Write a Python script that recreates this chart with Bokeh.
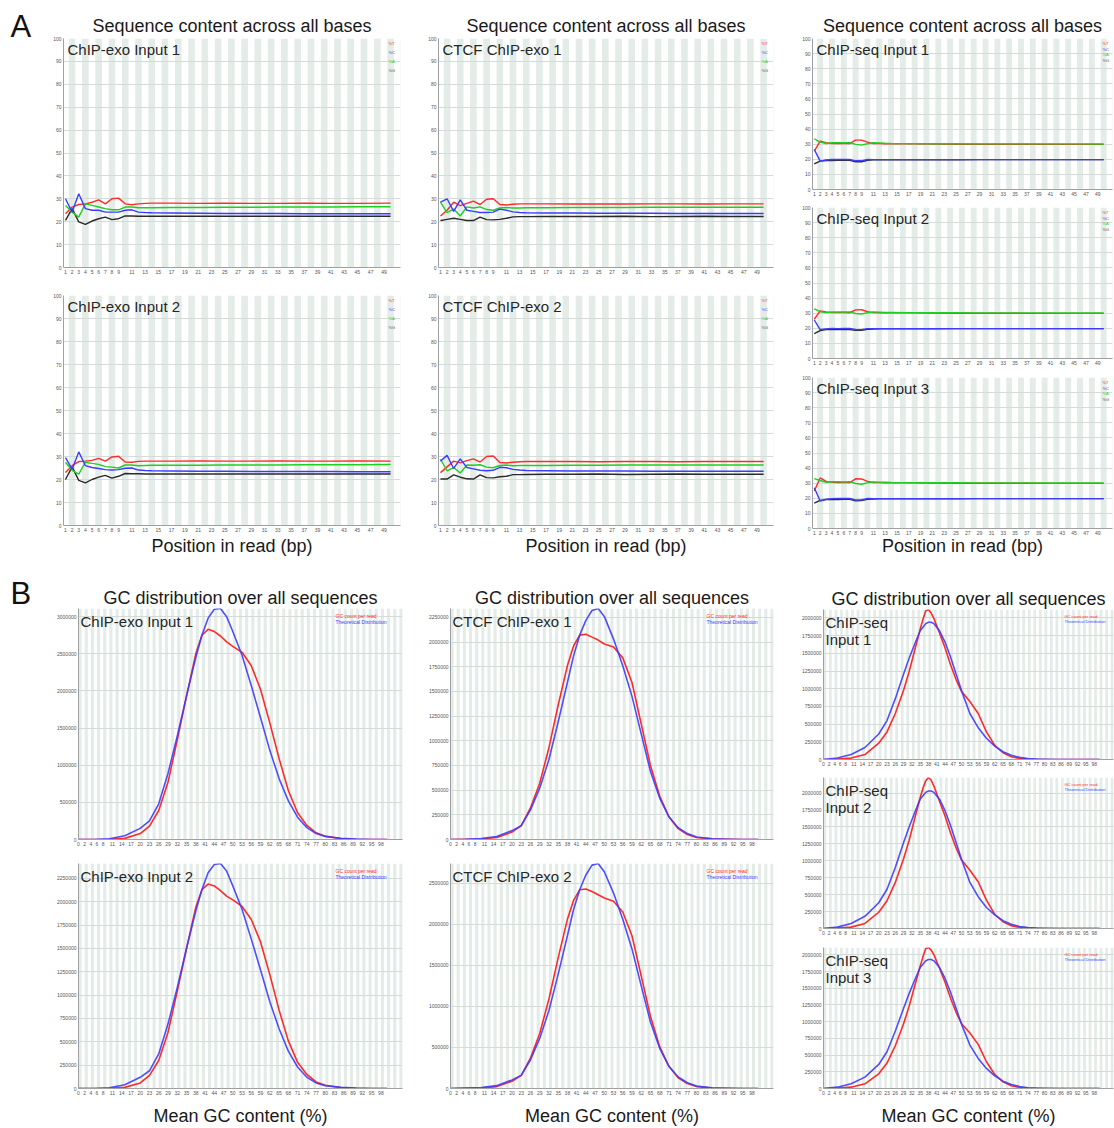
import numpy as np
from bokeh.plotting import figure
from bokeh.layouts import row, column
from bokeh.models import Range1d, FixedTicker, Label, NumeralTickFormatter
from bokeh.core.properties import value
from bokeh.embed import file_html
from bokeh.resources import INLINE

FONT = "Liberation Sans"
BAND = "#e4ece8"
GRID = "#d3dcd8"
RED = "#ff2a2a"
BLUE = "#3c3cff"
GREEN = "#1fcf1f"
BLACK = "#2a2a2a"

# ---------------- Panel A: per-base sequence content (%) ----------------
POS = [1, 2, 3, 4, 5, 6, 7, 8, 9, 10, 11, 12, 13, 14, 17, 21, 25, 29, 33, 37, 41, 45, 50]
POS_TICKS = list(range(1, 10)) + list(range(11, 50, 2))
PCT_TICKS = list(range(0, 101, 10))

exo1_T = [23.5, 26.4, 27.5, 27.8, 28.5, 29.5, 27.8, 30.0, 30.3, 27.8, 27.4, 27.8, 28.0, 28.1, 28.1, 28.0, 28.1, 28.0, 28.0, 28.1, 28.0, 28.0, 28.1]
exo1_C = [30.0, 24.2, 32.2, 25.7, 25.0, 25.0, 24.2, 24.2, 24.2, 25.0, 25.2, 24.2, 24.0, 23.9, 23.8, 23.7, 23.6, 23.6, 23.6, 23.5, 23.5, 23.5, 23.5]
exo1_A = [27.1, 24.2, 22.0, 27.8, 27.1, 26.4, 25.7, 25.2, 25.2, 26.4, 26.4, 26.1, 26.1, 26.1, 26.2, 26.2, 26.3, 26.3, 26.4, 26.4, 26.4, 26.5, 26.5]
exo1_G = [20.6, 25.7, 19.9, 18.8, 20.3, 21.3, 22.0, 20.9, 21.3, 22.5, 22.5, 22.4, 22.4, 22.4, 22.4, 22.4, 22.4, 22.4, 22.4, 22.4, 22.4, 22.4, 22.4]

exo2_T = [23.0, 26.0, 27.8, 28.0, 28.3, 29.2, 28.0, 29.8, 30.1, 27.6, 27.5, 27.9, 28.0, 28.0, 28.0, 28.1, 28.0, 28.0, 28.1, 28.0, 28.0, 28.1, 28.0]
exo2_C = [29.5, 24.5, 32.0, 26.0, 25.2, 24.8, 24.3, 24.1, 24.3, 24.9, 25.0, 24.1, 23.9, 23.8, 23.7, 23.6, 23.6, 23.5, 23.5, 23.5, 23.5, 23.4, 23.4]
exo2_A = [27.5, 24.0, 22.3, 27.5, 27.0, 26.6, 25.6, 25.4, 25.0, 26.3, 26.3, 26.0, 26.1, 26.2, 26.2, 26.2, 26.3, 26.3, 26.3, 26.4, 26.4, 26.4, 26.5]
exo2_G = [20.0, 25.5, 19.6, 18.5, 20.0, 21.0, 21.8, 20.6, 21.4, 22.6, 22.5, 22.5, 22.4, 22.4, 22.4, 22.4, 22.4, 22.4, 22.4, 22.4, 22.4, 22.4, 22.4]

ctcf1_T = [22.5, 25.0, 28.5, 27.0, 28.0, 29.0, 27.5, 29.8, 30.0, 27.5, 27.3, 27.6, 27.8, 27.8, 27.8, 27.7, 27.8, 27.7, 27.8, 27.8, 27.7, 27.8, 27.8]
ctcf1_C = [28.5, 30.0, 24.5, 29.5, 25.0, 24.5, 24.0, 24.0, 24.2, 25.5, 25.0, 24.3, 24.0, 23.9, 23.8, 23.8, 23.7, 23.7, 23.7, 23.6, 23.6, 23.6, 23.6]
ctcf1_A = [28.5, 24.0, 25.5, 22.5, 26.5, 26.0, 26.5, 25.3, 25.0, 26.0, 26.2, 26.0, 26.0, 26.1, 26.1, 26.2, 26.2, 26.2, 26.3, 26.3, 26.3, 26.3, 26.3]
ctcf1_G = [20.5, 21.0, 21.5, 21.0, 20.5, 20.5, 22.0, 20.9, 20.8, 21.0, 21.5, 22.1, 22.2, 22.2, 22.3, 22.3, 22.3, 22.4, 22.2, 22.3, 22.4, 22.3, 22.3]

ctcf2_T = [23.0, 25.5, 28.0, 27.2, 28.2, 29.0, 27.6, 30.0, 30.2, 27.4, 27.2, 27.5, 27.7, 27.8, 27.8, 27.8, 27.7, 27.8, 27.8, 27.7, 27.8, 27.8, 27.8]
ctcf2_C = [28.0, 30.5, 24.8, 29.0, 25.2, 24.6, 24.0, 23.8, 24.0, 25.3, 25.1, 24.4, 24.1, 23.9, 23.8, 23.7, 23.7, 23.7, 23.6, 23.6, 23.6, 23.6, 23.6]
ctcf2_A = [28.8, 23.8, 25.2, 22.8, 26.3, 26.2, 26.4, 25.4, 25.1, 26.1, 26.3, 26.0, 26.1, 26.1, 26.1, 26.2, 26.2, 26.3, 26.3, 26.3, 26.3, 26.3, 26.3]
ctcf2_G = [20.2, 20.2, 22.0, 21.0, 20.3, 20.2, 22.0, 20.8, 20.7, 21.2, 21.4, 22.1, 22.1, 22.2, 22.3, 22.3, 22.4, 22.2, 22.3, 22.4, 22.3, 22.3, 22.3]

seq1_T = [25.4, 32.0, 31.0, 30.5, 30.5, 30.5, 30.4, 32.7, 32.7, 31.4, 30.5, 30.4, 30.3, 30.3, 30.2, 30.1, 30.0, 30.0, 30.0, 30.0, 29.9, 29.9, 29.9]
seq1_C = [26.5, 18.8, 19.5, 19.9, 19.9, 19.9, 19.9, 19.0, 19.0, 19.9, 19.8, 19.8, 19.8, 19.8, 19.8, 19.8, 19.8, 19.8, 19.8, 19.8, 19.8, 19.8, 19.8]
seq1_A = [33.6, 31.4, 30.5, 31.0, 31.0, 31.0, 31.0, 29.9, 29.4, 30.3, 31.0, 30.8, 30.6, 30.5, 30.4, 30.3, 30.3, 30.2, 30.2, 30.2, 30.2, 30.2, 30.1]
seq1_G = [17.0, 18.8, 19.2, 19.2, 19.3, 19.3, 19.3, 18.4, 18.4, 19.4, 19.6, 19.7, 19.7, 19.7, 19.7, 19.7, 19.7, 19.8, 19.8, 19.8, 19.8, 19.8, 19.8]

seq2_T = [26.0, 31.5, 30.8, 30.4, 30.4, 30.5, 30.3, 32.2, 32.3, 31.0, 30.4, 30.3, 30.3, 30.2, 30.2, 30.1, 30.0, 30.0, 30.0, 29.9, 29.9, 29.9, 29.9]
seq2_C = [25.5, 19.2, 19.6, 19.9, 19.8, 19.9, 19.9, 19.2, 19.1, 19.8, 19.8, 19.8, 19.8, 19.8, 19.8, 19.8, 19.8, 19.8, 19.8, 19.8, 19.8, 19.8, 19.8]
seq2_A = [32.8, 31.0, 30.4, 30.8, 30.9, 30.8, 30.9, 29.8, 29.5, 30.3, 30.8, 30.7, 30.5, 30.5, 30.4, 30.3, 30.3, 30.2, 30.2, 30.2, 30.2, 30.1, 30.1]
seq2_G = [16.5, 18.5, 19.2, 19.1, 19.2, 19.3, 19.2, 18.6, 18.6, 19.4, 19.5, 19.6, 19.7, 19.7, 19.7, 19.7, 19.8, 19.8, 19.8, 19.8, 19.8, 19.8, 19.8]

seq3_T = [24.8, 33.5, 31.2, 30.6, 30.5, 30.5, 30.4, 32.9, 32.8, 31.2, 30.5, 30.4, 30.3, 30.3, 30.2, 30.1, 30.0, 30.0, 30.0, 30.0, 29.9, 29.9, 29.9]
seq3_C = [27.0, 18.2, 19.4, 19.8, 19.9, 19.9, 19.9, 18.9, 18.9, 19.9, 19.8, 19.8, 19.8, 19.8, 19.8, 19.8, 19.8, 19.8, 19.8, 19.8, 19.8, 19.8, 19.8]
seq3_A = [33.0, 31.8, 30.6, 31.0, 31.0, 30.9, 31.0, 29.8, 29.3, 30.2, 30.9, 30.7, 30.6, 30.5, 30.4, 30.3, 30.3, 30.2, 30.2, 30.2, 30.1, 30.1, 30.1]
seq3_G = [16.8, 18.6, 19.1, 19.2, 19.2, 19.3, 19.3, 18.3, 18.5, 19.3, 19.5, 19.7, 19.7, 19.7, 19.7, 19.7, 19.7, 19.8, 19.8, 19.8, 19.8, 19.8, 19.8]

# ---------------- Panel B: GC distribution (millions of reads) ----------------
GC_EXO = [0, 5, 10, 15, 20, 23, 26, 29, 32, 35, 38, 40, 42, 44, 46, 48, 50, 53, 56, 59, 62, 65, 68, 71, 74, 77, 80, 85, 90, 95, 100]
GC_SEQ = [0, 5, 10, 15, 20, 23, 26, 29, 31, 33, 35, 36, 37, 38, 39, 40, 42, 44, 46, 48, 50, 53, 56, 59, 62, 65, 68, 71, 74, 77, 80, 85, 90, 95, 100]
GC_TICKS = [0, 2, 4, 6, 8] + list(range(11, 99, 3))

gc_exo1_red = [0, 0, 0.003, 0.015, 0.08, 0.18, 0.39, 0.77, 1.34, 1.93, 2.50, 2.75, 2.83, 2.80, 2.74, 2.66, 2.60, 2.52, 2.34, 2.02, 1.57, 1.09, 0.66, 0.36, 0.19, 0.09, 0.045, 0.014, 0.004, 0, 0]
gc_exo1_blue = [0, 0, 0.01, 0.05, 0.15, 0.25, 0.48, 0.89, 1.39, 1.93, 2.45, 2.75, 2.98, 3.10, 3.11, 3.00, 2.80, 2.48, 2.07, 1.64, 1.20, 0.82, 0.52, 0.30, 0.16, 0.08, 0.04, 0.015, 0.005, 0, 0]
gc_exo2_red = [0, 0, 0.002, 0.012, 0.06, 0.14, 0.30, 0.60, 1.04, 1.50, 1.94, 2.13, 2.19, 2.17, 2.12, 2.06, 2.02, 1.95, 1.81, 1.57, 1.22, 0.84, 0.51, 0.28, 0.15, 0.07, 0.035, 0.011, 0.003, 0, 0]
gc_exo2_blue = [0, 0, 0.008, 0.04, 0.12, 0.19, 0.37, 0.69, 1.08, 1.50, 1.90, 2.13, 2.31, 2.40, 2.41, 2.33, 2.17, 1.92, 1.60, 1.27, 0.93, 0.64, 0.40, 0.23, 0.12, 0.06, 0.03, 0.012, 0.004, 0, 0]
gc_ctcf1_red = [0, 0.002, 0.005, 0.02, 0.075, 0.14, 0.32, 0.57, 0.93, 1.36, 1.76, 1.96, 2.07, 2.08, 2.05, 2.02, 1.98, 1.95, 1.84, 1.59, 1.17, 0.75, 0.44, 0.23, 0.11, 0.05, 0.02, 0.006, 0.002, 0, 0]
gc_ctcf1_blue = [0, 0.003, 0.01, 0.03, 0.09, 0.14, 0.30, 0.52, 0.81, 1.19, 1.59, 1.86, 2.07, 2.22, 2.32, 2.34, 2.26, 2.03, 1.76, 1.45, 1.07, 0.69, 0.42, 0.23, 0.12, 0.06, 0.025, 0.007, 0.002, 0, 0]
gc_ctcf2_red = [0, 0.002, 0.006, 0.023, 0.088, 0.16, 0.37, 0.67, 1.09, 1.59, 2.06, 2.29, 2.42, 2.43, 2.40, 2.36, 2.32, 2.28, 2.15, 1.86, 1.37, 0.88, 0.51, 0.27, 0.13, 0.06, 0.023, 0.007, 0.002, 0, 0]
gc_ctcf2_blue = [0, 0.004, 0.012, 0.035, 0.105, 0.16, 0.35, 0.61, 0.95, 1.39, 1.86, 2.18, 2.42, 2.60, 2.72, 2.74, 2.64, 2.38, 2.06, 1.70, 1.25, 0.81, 0.49, 0.27, 0.14, 0.07, 0.03, 0.008, 0.002, 0, 0]
gc_seq1_red = [0, 0.005, 0.02, 0.07, 0.23, 0.39, 0.65, 0.98, 1.24, 1.54, 1.84, 1.98, 2.10, 2.12, 2.07, 1.99, 1.79, 1.58, 1.34, 1.13, 0.96, 0.82, 0.65, 0.39, 0.20, 0.095, 0.04, 0.015, 0.006, 0.002, 0, 0, 0, 0, 0]
gc_seq1_blue = [0.001, 0.02, 0.07, 0.17, 0.36, 0.55, 0.86, 1.21, 1.43, 1.63, 1.82, 1.87, 1.92, 1.94, 1.94, 1.92, 1.82, 1.66, 1.45, 1.21, 0.97, 0.65, 0.45, 0.30, 0.19, 0.11, 0.06, 0.03, 0.012, 0.005, 0.002, 0, 0, 0, 0]
gc_seq2_red = [0, 0.005, 0.02, 0.075, 0.24, 0.41, 0.68, 1.03, 1.30, 1.62, 1.93, 2.07, 2.18, 2.23, 2.19, 2.10, 1.88, 1.66, 1.41, 1.19, 1.01, 0.86, 0.69, 0.42, 0.21, 0.10, 0.042, 0.016, 0.006, 0.002, 0, 0, 0, 0, 0]
gc_seq2_blue = [0.001, 0.02, 0.075, 0.18, 0.38, 0.58, 0.90, 1.27, 1.50, 1.71, 1.91, 1.96, 2.01, 2.03, 2.03, 2.01, 1.91, 1.74, 1.52, 1.27, 1.02, 0.68, 0.47, 0.31, 0.20, 0.115, 0.063, 0.03, 0.013, 0.005, 0.002, 0, 0, 0, 0]
gc_seq3_red = [0, 0.005, 0.02, 0.07, 0.22, 0.38, 0.64, 0.97, 1.23, 1.53, 1.83, 1.97, 2.09, 2.11, 2.07, 2.00, 1.80, 1.59, 1.35, 1.14, 0.97, 0.83, 0.66, 0.40, 0.21, 0.10, 0.04, 0.015, 0.006, 0.002, 0, 0, 0, 0, 0]
gc_seq3_blue = [0.001, 0.02, 0.07, 0.17, 0.36, 0.55, 0.86, 1.20, 1.42, 1.62, 1.81, 1.86, 1.91, 1.93, 1.93, 1.91, 1.81, 1.65, 1.44, 1.20, 0.96, 0.65, 0.45, 0.30, 0.19, 0.11, 0.06, 0.03, 0.012, 0.005, 0.002, 0, 0, 0, 0]

TICKS_500K_3M = list(range(0, 3000001, 500000))
TICKS_250K_2250K = list(range(0, 2250001, 250000))
TICKS_500K_2500K = list(range(0, 2500001, 500000))
TICKS_250K_2M = list(range(0, 2000001, 250000))

SEQ_TITLE = "Sequence content across all bases"
GC_TITLE = "GC distribution over all sequences"
POS_LABEL = "Position in read (bp)"
GC_LABEL = "Mean GC content (%)"


def base_fig(w, h, l, r, t, b, xr, yr, title, title_standoff=2):
    kw = dict(width=w, height=h, min_border_left=l, min_border_right=r,
              min_border_top=t, min_border_bottom=b,
              x_range=Range1d(*xr), y_range=Range1d(*yr),
              output_backend="svg", toolbar_location=None, tools="")
    if title:
        p = figure(title=title, **kw)
        p.title.align = "center"
        p.title.text_font = FONT
        p.title.text_font_size = "18px"
        p.title.text_font_style = "normal"
        p.title.text_color = "#1a1a1a"
        p.title.standoff = title_standoff
    else:
        p = figure(title=None, **kw)
    p.outline_line_color = None
    p.border_fill_color = "white"
    p.background_fill_color = "white"
    p.xgrid.grid_line_color = None
    p.ygrid.grid_line_color = GRID
    p.ygrid.grid_line_width = 1
    for ax in p.axis:
        ax.axis_line_color = "#a0a0a0"
        ax.major_tick_line_color = None
        ax.minor_tick_line_color = None
        ax.major_tick_out = 0
        ax.major_tick_in = 0
        ax.minor_tick_out = 0
        ax.minor_tick_in = 0
        ax.major_label_text_font = FONT
        ax.major_label_text_font_size = "5px"
        ax.major_label_text_color = "#555555"
        ax.major_label_standoff = 2
    return p


def add_xlabel(p, text, standoff):
    p.xaxis.axis_label = text
    p.xaxis.axis_label_text_font = FONT
    p.xaxis.axis_label_text_font_size = "18px"
    p.xaxis.axis_label_text_font_style = "normal"
    p.xaxis.axis_label_text_color = "#1a1a1a"
    p.xaxis.axis_label_standoff = standoff


def seq_panel(name, T, C, A, G, w, h, l, r, t, b, title=None, xlabel=None, small=False, label_standoff=3):
    xr = (0.7, 51.5)
    p = base_fig(w, h, l, r, t, b, xr, (0, 100), title, title_standoff=5)
    shaded = [k for k in range(2, 53, 2)]
    p.quad(left=[k - 0.5 for k in shaded], right=[k + 0.5 for k in shaded],
           bottom=0, top=100, fill_color=BAND, line_color=None, level="image")
    p.line(POS, G, color=BLACK, line_width=1.4)
    p.line(POS, T, color=RED, line_width=1.4)
    p.line(POS, A, color=GREEN, line_width=1.4)
    p.line(POS, C, color=BLUE, line_width=1.4)
    p.xaxis.ticker = FixedTicker(ticks=POS_TICKS)
    p.yaxis.ticker = FixedTicker(ticks=PCT_TICKS)
    p.add_layout(Label(x=xr[0], y=100, x_offset=4, y_offset=-2, text=name,
                       text_baseline="top", text_font=FONT, text_font_size="15px",
                       text_color="#262626"))
    step = 5.5 if small else 9
    xo = -10 if small else -12
    for i, (lab, col) in enumerate([("%T", RED), ("%C", BLUE), ("%A", GREEN), ("%G", "#555555")]):
        p.add_layout(Label(x=xr[1], y=100, x_offset=xo, y_offset=-5 - i * step, text=lab,
                           text_baseline="middle", text_font=FONT, text_font_size="4px",
                           text_color=col))
    if xlabel:
        add_xlabel(p, xlabel, label_standoff)
    return p


def gc_panel(name, xs, red, blue, yticks, w, h, l, r, t, b, title=None, xlabel=None, small=False):
    ymax = max(max(red), max(blue)) * 1e6
    xr = (0, 105)
    p = base_fig(w, h, l, r, t, b, xr, (0, ymax), title)
    shaded = list(range(0, 105, 2))
    p.quad(left=shaded, right=[k + 1 for k in shaded], bottom=0, top=ymax,
           fill_color=BAND, line_color=None, level="image")
    p.line(xs, np.array(red) * 1e6, color=RED, line_width=1.6, line_join="round")
    p.line(xs, np.array(blue) * 1e6, color=BLUE, line_width=1.6, line_join="round", line_alpha=0.9)
    p.xaxis.ticker = FixedTicker(ticks=GC_TICKS)
    p.yaxis.ticker = FixedTicker(ticks=yticks)
    p.yaxis.formatter = NumeralTickFormatter(format="0")
    p.add_layout(Label(x=xr[0], y=ymax, x_offset=2, y_offset=-4, text=name,
                       text_baseline="top", text_font=FONT, text_font_size="15px",
                       text_color="#262626", text_line_height=1.05))
    fs = "4px" if small else "5px"
    bw = -50 if small else -68
    lh = 5 if small else 6.5
    p.add_layout(Label(x=xr[1], y=ymax, x_offset=bw, y_offset=-3,
                       text="GC count per read\nTheoretical Distribution",
                       text_baseline="top", text_font=FONT, text_font_size=fs,
                       text_alpha=0, background_fill_color="white",
                       border_line_color="#c8c8c8", padding=1))
    p.add_layout(Label(x=xr[1], y=ymax, x_offset=bw + 1, y_offset=-4, text="GC count per read",
                       text_baseline="top", text_font=FONT, text_font_size=fs, text_color=RED))
    p.add_layout(Label(x=xr[1], y=ymax, x_offset=bw + 1, y_offset=-4 - lh,
                       text="Theoretical Distribution",
                       text_baseline="top", text_font=FONT, text_font_size=fs, text_color=BLUE))
    if xlabel:
        add_xlabel(p, xlabel, 8)
    return p


def letter_fig(letter, h, top):
    p = figure(width=40, height=h, x_range=Range1d(0, 40), y_range=Range1d(0, h),
               min_border=0, title=None, output_backend="svg", toolbar_location=None, tools="")
    p.axis.visible = False
    p.grid.grid_line_color = None
    p.outline_line_color = None
    p.text(x=[10], y=[h - top], text=[letter], text_baseline="top", text_align="left",
           text_font=value(FONT), text_font_size=value("31px"), text_color="#111111")
    return p


# Column 1 (x 40..415)
a11 = seq_panel("ChIP-exo Input 1", exo1_T, exo1_C, exo1_A, exo1_G, 375, 281, 23, 15, 38, 14, title=SEQ_TITLE)
a12 = seq_panel("ChIP-exo Input 2", exo2_T, exo2_C, exo2_A, exo2_G, 375, 284, 23, 15, 14, 40, xlabel=POS_LABEL, label_standoff=1)
b11 = gc_panel("ChIP-exo Input 1", GC_EXO, gc_exo1_red, gc_exo1_blue, TICKS_500K_3M, 375, 286, 38, 13, 43, 12, title=GC_TITLE)
b12 = gc_panel("ChIP-exo Input 2", GC_EXO, gc_exo2_red, gc_exo2_blue, TICKS_250K_2250K, 375, 277, 38, 13, 12, 34, xlabel=GC_LABEL)

# Column 2 (x 415..795)
a21 = seq_panel("CTCF ChIP-exo 1", ctcf1_T, ctcf1_C, ctcf1_A, ctcf1_G, 380, 281, 23, 22, 38, 14, title=SEQ_TITLE)
a22 = seq_panel("CTCF ChIP-exo 2", ctcf2_T, ctcf2_C, ctcf2_A, ctcf2_G, 380, 284, 23, 22, 14, 40, xlabel=POS_LABEL, label_standoff=1)
b21 = gc_panel("CTCF ChIP-exo 1", GC_EXO, gc_ctcf1_red, gc_ctcf1_blue, TICKS_250K_2250K, 380, 286, 35, 22, 43, 12, title=GC_TITLE)
b22 = gc_panel("CTCF ChIP-exo 2", GC_EXO, gc_ctcf2_red, gc_ctcf2_blue, TICKS_500K_2500K, 380, 277, 35, 22, 12, 34, xlabel=GC_LABEL)

# Column 3 (x 795..1114)
a31 = seq_panel("ChIP-seq Input 1", seq1_T, seq1_C, seq1_A, seq1_G, 319, 198, 17, 2, 38, 8, title=SEQ_TITLE, small=True)
a32 = seq_panel("ChIP-seq Input 2", seq2_T, seq2_C, seq2_A, seq2_G, 319, 169, 17, 2, 9, 9, small=True)
a33 = seq_panel("ChIP-seq Input 3", seq3_T, seq3_C, seq3_A, seq3_G, 319, 198, 17, 2, 10, 37, xlabel=POS_LABEL, small=True, label_standoff=-2)
b31 = gc_panel("ChIP-seq\nInput 1", GC_SEQ, gc_seq1_red, gc_seq1_blue, TICKS_250K_2M, 319, 203, 28, 1, 44, 9, title=GC_TITLE, small=True)
b32 = gc_panel("ChIP-seq\nInput 2", GC_SEQ, gc_seq2_red, gc_seq2_blue, TICKS_250K_2M, 319, 169, 28, 1, 9, 9, small=True)
b33 = gc_panel("ChIP-seq\nInput 3", GC_SEQ, gc_seq3_red, gc_seq3_blue, TICKS_250K_2M, 319, 191, 28, 1, 10, 30, xlabel=GC_LABEL, small=True)

# Panel letters (x 0..40)
la = letter_fig("A", 565, 8)
lb = letter_fig("B", 563, 10)

layout = column(
    row(la, column(a11, a12), column(a21, a22), column(a31, a32, a33)),
    row(lb, column(b11, b12), column(b21, b22), column(b31, b32, b33)),
)

open("out.html", "w").write(file_html(layout, INLINE))
